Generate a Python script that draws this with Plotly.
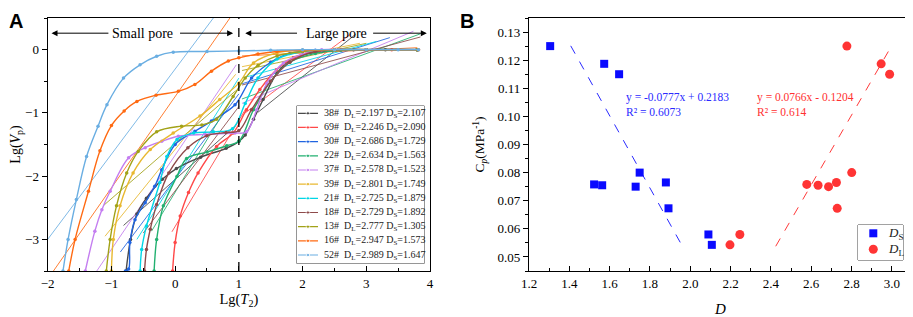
import plotly.graph_objects as go

# ---------------- Panel A data ----------------
samples = ["38#", "69#", "30#", "22#", "37#", "39#", "21#", "18#", "13#", "16#", "52#"]
DL = [2.197, 2.246, 2.686, 2.634, 2.578, 2.801, 2.725, 2.729, 2.777, 2.947, 2.989]
DS = [2.107, 2.090, 1.729, 1.563, 1.523, 1.749, 1.879, 1.892, 1.305, 1.573, 1.647]
colors_A = ["#4a4a4a", "#ff4848", "#2064e0", "#22b070", "#c47ef0", "#e8b830",
            "#00d6e6", "#8e4a4a", "#a2a218", "#ff6a12", "#6aaee2"]

curve_x = {
    "38#": [-0.77, -0.7, -0.6, -0.45, -0.2, 0.02, 0.4, 0.8, 1.0, 1.1, 1.23, 1.38, 1.6, 1.86, 2.3, 2.8, 3.3, 3.8],
    "69#": [-0.04, 0.0, 0.08, 0.21, 0.36, 0.65, 0.91, 1.12, 1.33, 1.59, 1.86, 2.2, 2.6, 3.0, 3.4, 3.8],
    "30#": [-0.78, -0.73, -0.71, -0.63, -0.47, -0.32, -0.21, 0.0, 0.31, 0.57, 0.94, 1.2, 1.5, 1.8, 2.2, 3.0, 3.8],
    "22#": [-0.33, -0.29, -0.185, 0.03, 0.18, 0.5, 0.81, 1.0, 1.23, 1.5, 1.8, 2.2, 2.6, 3.0, 3.8],
    "37#": [-1.41, -1.26, -1.15, -1.02, -0.73, -0.47, -0.21, 0.05, 0.47, 0.94, 1.12, 1.28, 1.44, 1.7, 2.0, 2.3, 3.0, 3.8],
    "39#": [-1.0, -0.97, -0.865, -0.66, -0.39, -0.03, 0.39, 0.7, 1.0, 1.23, 1.6, 2.0, 2.5, 3.0, 3.8],
    "21#": [-0.55, -0.525, -0.45, -0.24, -0.13, 0.03, 0.29, 0.6, 0.9, 1.1, 1.3, 1.6, 2.0, 2.5, 3.0, 3.8],
    "18#": [-0.48, -0.45, -0.39, -0.29, -0.1, 0.2, 0.5, 0.8, 1.0, 1.2, 1.5, 1.8, 2.2, 3.0, 3.8],
    "13#": [-1.08, -1.02, -0.92, -0.76, -0.58, -0.29, 0.1, 0.42, 0.65, 0.91, 1.1, 1.3, 1.6, 2.0, 2.5, 3.0, 3.8],
    "16#": [-1.67, -1.57, -1.36, -1.18, -1.0, -0.8, -0.6, -0.3, 0.05, 0.31, 0.57, 0.835, 1.0, 1.3, 1.6, 2.0, 2.5, 3.0, 3.82],
    "52#": [-1.76, -1.68, -1.55, -1.39, -1.21, -1.07, -0.81, -0.55, -0.29, -0.03, 0.5, 1.0, 1.5, 2.0, 2.5, 3.0, 3.5, 3.82],
}
curve_y = {
    "38#": [-3.5, -3.0, -2.6, -2.35, -2.05, -1.88, -1.7, -1.56, -1.45, -1.35, -1.1, -0.79, -0.37, -0.13, -0.03, 0.0, 0.0, 0.0],
    "69#": [-3.5, -3.05, -2.63, -2.26, -1.95, -1.53, -1.32, -0.95, -0.63, -0.32, -0.13, -0.03, 0.0, 0.0, 0.0, 0.0],
    "30#": [-3.5, -3.47, -3.05, -2.69, -2.42, -2.16, -1.9, -1.5, -1.29, -1.13, -0.87, -0.45, -0.2, -0.06, -0.01, 0.0, 0.0],
    "22#": [-3.5, -3.0, -2.47, -2.0, -1.72, -1.62, -1.52, -1.45, -0.95, -0.5, -0.2, -0.06, -0.01, 0.0, 0.0],
    "37#": [-3.5, -2.87, -2.53, -2.24, -1.71, -1.55, -1.45, -1.37, -1.34, -1.32, -1.3, -0.95, -0.53, -0.21, -0.07, 0.0, 0.0, 0.0],
    "39#": [-3.5, -3.0, -2.47, -1.95, -1.58, -1.32, -1.05, -0.79, -0.53, -0.21, -0.05, -0.01, 0.0, 0.0, 0.0],
    "21#": [-3.5, -3.16, -2.79, -2.1, -1.69, -1.42, -1.32, -1.3, -1.25, -0.85, -0.45, -0.15, -0.03, 0.0, 0.0, 0.0],
    "18#": [-3.5, -3.16, -2.84, -2.45, -1.95, -1.55, -1.36, -1.31, -1.28, -0.95, -0.5, -0.2, -0.03, 0.0, 0.0],
    "13#": [-3.5, -3.0, -2.47, -1.95, -1.61, -1.3, -1.21, -1.19, -1.1, -0.74, -0.45, -0.25, -0.1, -0.03, 0.0, 0.0, 0.0],
    "16#": [-3.5, -3.0, -2.24, -1.6, -1.2, -0.97, -0.82, -0.72, -0.66, -0.55, -0.34, -0.18, -0.13, -0.07, -0.03, -0.01, 0.0, 0.0, 0.0],
    "52#": [-3.5, -3.0, -2.37, -1.69, -1.21, -0.87, -0.45, -0.24, -0.105, -0.04, -0.03, -0.02, -0.01, 0.0, 0.0, 0.0, 0.0, 0.0],
}
# fitted straight lines: [x0, x1], [y0, y1]
small_fit_x = {"38#": [-0.81, 0.95], "69#": [-0.05, 1.1], "30#": [-0.86, 1.0], "22#": [-0.37, 0.9],
               "37#": [-1.23, 0.96], "39#": [-1.1, 0.95], "21#": [-0.6, 1.0], "18#": [-0.5, 1.0],
               "13#": [-1.13, 0.95], "16#": [-1.91, 0.86], "52#": [-2.0, 0.6]}
small_fit_y = {"38#": [-2.78, -1.2], "69#": [-2.88, -0.95], "30#": [-3.2, -0.7], "22#": [-2.87, -0.76],
               "37#": [-3.5, -0.24], "39#": [-2.95, -0.39], "21#": [-3.0, -0.45], "18#": [-2.9, -0.9],
               "13#": [-2.47, -0.65], "16#": [-3.5, 0.5], "52#": [-3.0, 0.5]}
large_fit_x = {"38#": [1.3, 2.83], "69#": [1.1, 2.75], "30#": [1.05, 3.37], "22#": [1.05, 3.85],
               "37#": [1.05, 3.74], "39#": [1.05, 2.9], "21#": [1.05, 3.16], "18#": [1.05, 3.85],
               "13#": [1.05, 3.0], "16#": [1.05, 3.8], "52#": [1.0, 3.8]}
large_fit_y = {"38#": [-0.99, 0.24], "69#": [-1.0, 0.24], "30#": [-0.54, 0.19], "22#": [-0.78, 0.25],
               "37#": [-0.85, 0.29], "39#": [-0.27, 0.1], "21#": [-0.45, 0.13], "18#": [-0.56, 0.2],
               "13#": [-0.33, 0.1], "16#": [-0.1, 0.03], "52#": [-0.02, 0.01]}

# ---------------- Panel B data ----------------
Cp = [0.0543, 0.058, 0.075, 0.0755, 0.0758, 0.080, 0.0765, 0.0673, 0.125, 0.1187, 0.115]
DS_fit_x = [1.407, 1.961]
DS_fit_y = [0.1251, 0.0538]
DL_fit_x = [2.424, 2.998]
DL_fit_y = [0.0538, 0.125]
legendB_names = ["<i>D</i><sub>S</sub>", "<i>D</i><sub>L</sub>"]

SERIF = "Liberation Serif"
OFF = 8                      # page body margin of the HTML page
W, H = 913 - OFF, 317 - OFF  # figure size so it fills the window


def px(v):   # reference x pixel -> paper fraction
    return (v - OFF) / W


def py(v):   # reference y pixel -> paper fraction
    return 1 - (v - OFF) / H


fig = go.Figure()

for i, s in enumerate(samples):
    c = colors_A[i]
    for fx, fy in [(small_fit_x[s], small_fit_y[s]), (large_fit_x[s], large_fit_y[s])]:
        fig.add_trace(go.Scatter(x=fx, y=fy, mode="lines", line=dict(color=c, width=1), opacity=0.85,
                                 showlegend=False, xaxis="x", yaxis="y", hoverinfo="skip"))

for i, s in enumerate(samples):
    c = colors_A[i]
    fig.add_trace(go.Scatter(
        x=curve_x[s], y=curve_y[s], mode="lines+markers", line_shape="spline",
        line=dict(color=c, width=1.4), marker=dict(color=c, size=3.5),
        showlegend=False, xaxis="x", yaxis="y"))

# Panel B
fig.add_trace(go.Scatter(x=DS_fit_x, y=DS_fit_y, mode="lines", line=dict(color="#2a2aff", width=1, dash="dash"),
                         showlegend=False, xaxis="x2", yaxis="y2"))
fig.add_trace(go.Scatter(x=DL_fit_x, y=DL_fit_y, mode="lines", line=dict(color="#ff3a3a", width=1, dash="dash"),
                         showlegend=False, xaxis="x2", yaxis="y2"))
sq = dict(symbol="square", size=8, color="#0a0aff")
ci = dict(symbol="circle", size=9, color="#ff3434")
fig.add_trace(go.Scatter(x=DS, y=Cp, mode="markers", marker=sq, showlegend=False, xaxis="x2", yaxis="y2"))
fig.add_trace(go.Scatter(x=DL, y=Cp, mode="markers", marker=ci, showlegend=False, xaxis="x2", yaxis="y2"))

# ---- hand-built legends (Plotly's legend rows are too tall) ----
LA = dict(x0=296.7, x1=424.3, y0=106, y1=263.3, row0=113.3, dy=14.17)
n = len(samples)
ya_top = -(LA["row0"] - LA["y0"]) / LA["dy"]
ya_bot = (n - 1) + (LA["y1"] - (LA["row0"] + (n - 1) * LA["dy"])) / LA["dy"]
for i, s in enumerate(samples):
    c = colors_A[i]
    fig.add_trace(go.Scatter(x=[0.01, 0.088, 0.167], y=[i, i, i], mode="lines+markers",
                             line=dict(color=c, width=1.2), marker=dict(color=c, size=[0, 3.5, 0]),
                             showlegend=False, xaxis="x3", yaxis="y3", hoverinfo="skip"))
LB = dict(x0=858, x1=903, y0=225, y1=260, row0=233.3, dy=16.0)
yb_top = -(LB["row0"] - LB["y0"]) / LB["dy"]
yb_bot = 1 + (LB["y1"] - (LB["row0"] + LB["dy"])) / LB["dy"]
fig.add_trace(go.Scatter(x=[0.34], y=[0], mode="markers", marker=sq, showlegend=False, xaxis="x4", yaxis="y4"))
fig.add_trace(go.Scatter(x=[0.34], y=[1], mode="markers", marker=ci, showlegend=False, xaxis="x4", yaxis="y4"))

tickfont = dict(family=SERIF, size=13, color="black")
common = dict(showline=True, linecolor="black", linewidth=1.3, mirror=True, showgrid=False,
              zeroline=False, tickfont=tickfont, tickcolor="black")
hidden = dict(visible=False, showgrid=False, zeroline=False, fixedrange=True)

fig.update_layout(
    width=W, height=H, margin=dict(l=0, r=0, t=0, b=0, autoexpand=False),
    paper_bgcolor="white", plot_bgcolor="white", showlegend=False,
    font=dict(family=SERIF, size=13, color="black"),
    xaxis=dict(domain=[px(47.7), px(430)], range=[-2, 4], anchor="y", tickmode="linear", tick0=-2, dtick=1,
               ticks="inside", ticklen=5, minor=dict(ticks="inside", ticklen=3, dtick=0.5, tickcolor="black"),
               title=dict(text="Lg(<i>T</i><sub>2</sub>)", font=dict(family=SERIF, size=14.5), standoff=2),
               **common),
    yaxis=dict(domain=[py(271), py(18)], range=[-3.5, 0.5], anchor="x", tickmode="array",
               tickvals=[-3, -2, -1, 0], ticks="outside", ticklen=5,
               minor=dict(ticks="outside", ticklen=3, dtick=0.5, tickcolor="black"),
               title=dict(text="Lg(<i>V</i><sub>p</sub>)", font=dict(family=SERIF, size=14), standoff=8),
               **common),
    xaxis2=dict(domain=[px(529), px(912)], range=[1.2, 3.1], anchor="y2", tickmode="linear", tick0=1.2, dtick=0.2,
                tickformat=".1f", ticks="inside", ticklen=5,
                minor=dict(ticks="inside", ticklen=3, dtick=0.1, tickcolor="black"),
                title=dict(text="<i>D</i>", font=dict(family=SERIF, size=15), standoff=16),
                **common),
    yaxis2=dict(domain=[py(271), py(18)], range=[0.045, 0.135], anchor="x2", tickmode="linear",
                tick0=0.05, dtick=0.01, tickformat=".2f", ticks="outside", ticklen=5,
                minor=dict(ticks="outside", ticklen=3, dtick=0.005, tickcolor="black"),
                title=dict(text="C<sub><i>p</i></sub>(MPa<sup>-1</sup>)", font=dict(family=SERIF, size=13.5), standoff=9),
                **common),
    xaxis3=dict(domain=[px(LA["x0"]), px(LA["x1"])], range=[0, 1], anchor="y3", **hidden),
    yaxis3=dict(domain=[py(LA["y1"]), py(LA["y0"])], range=[ya_bot, ya_top], anchor="x3", **hidden),
    xaxis4=dict(domain=[px(LB["x0"]), px(LB["x1"])], range=[0, 1], anchor="y4", **hidden),
    yaxis4=dict(domain=[py(LB["y1"]), py(LB["y0"])], range=[yb_bot, yb_top], anchor="x4", **hidden),
)

ann = []
for i, s in enumerate(samples):
    ann.append(dict(x=0.196, y=i, xref="x3", yref="y3", xanchor="left", yanchor="middle", showarrow=False,
                    text=f"{s}  D<sub>L</sub>={DL[i]:.3f} D<sub>S</sub>={DS[i]:.3f}",
                    font=dict(family=SERIF, size=10, color="#222")))
for i, nm in enumerate(legendB_names):
    ann.append(dict(x=0.62, y=i, xref="x4", yref="y4", xanchor="left", yanchor="middle", showarrow=False,
                    text=nm, font=dict(family=SERIF, size=13, color="#222")))
# panel letters
ann.append(dict(text="<b>A</b>", x=px(7), y=py(8), xref="paper", yref="paper", xanchor="left", yanchor="top",
                showarrow=False, font=dict(family="Liberation Sans", size=20)))
ann.append(dict(text="<b>B</b>", x=px(458), y=py(8), xref="paper", yref="paper", xanchor="left", yanchor="top",
                showarrow=False, font=dict(family="Liberation Sans", size=20)))
# pore region arrows (panel A)
arrow_y = 0.26
for head, tail in [(-1.94, -1.0), (0.91, 0.03), (1.1, 1.96), (3.95, 3.06)]:
    ann.append(dict(x=head, y=arrow_y, ax=tail, ay=arrow_y, xref="x", yref="y", axref="x", ayref="y",
                    text=" ", showarrow=True, arrowhead=2, arrowsize=1.2, arrowwidth=1, arrowcolor="black"))
ann.append(dict(x=-0.52, y=arrow_y, xref="x", yref="y", text="Small pore", showarrow=False,
                font=dict(family=SERIF, size=14)))
ann.append(dict(x=2.53, y=arrow_y, xref="x", yref="y", text="Large pore", showarrow=False,
                font=dict(family=SERIF, size=14)))
# fit equations (panel B)
ann.append(dict(x=1.67, y=0.1044, xref="x2", yref="y2", xanchor="left", showarrow=False, align="left",
                text="y = -0.0777x + 0.2183<br>R² = 0.6073", font=dict(family=SERIF, size=11.5, color="#2a2aff")))
ann.append(dict(x=2.32, y=0.1042, xref="x2", yref="y2", xanchor="left", showarrow=False, align="left",
                text="y = 0.0766x - 0.1204<br>R² = 0.614", font=dict(family=SERIF, size=11.5, color="#ff3030")))

shapes = [dict(type="line", xref="x", yref="paper", x0=1, x1=1, y0=py(271), y1=py(18),
               line=dict(color="black", width=1.3, dash="dash"))]
for L in (LA, LB):
    shapes.append(dict(type="rect", xref="paper", yref="paper", layer="below",
                       x0=px(L["x0"]), x1=px(L["x1"]), y0=py(L["y1"]), y1=py(L["y0"]),
                       fillcolor="white", line=dict(color="#444", width=1)))
fig.update_layout(annotations=ann, shapes=shapes)

fig.write_html("out.html")
